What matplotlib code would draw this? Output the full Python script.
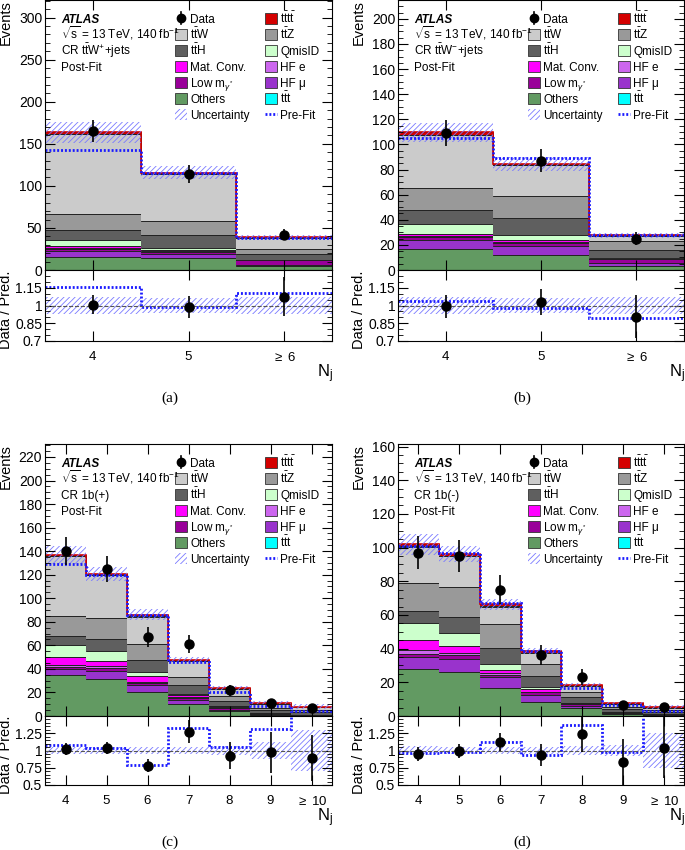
import numpy as np
import matplotlib
matplotlib.use('Agg')
import matplotlib.pyplot as plt
from matplotlib.patches import Rectangle
from matplotlib.lines import Line2D
from matplotlib.ticker import MultipleLocator, FixedLocator

plt.rcParams['font.family'] = ['Liberation Sans', 'DejaVu Sans']
plt.rcParams['mathtext.fontset'] = 'custom'
plt.rcParams['mathtext.rm'] = 'Liberation Sans'
plt.rcParams['mathtext.it'] = 'Liberation Sans:italic'
plt.rcParams['mathtext.bf'] = 'Liberation Sans:bold'
plt.rcParams['hatch.linewidth'] = 0.6

# ---- data ----
nj_3 = ["4", "5", r"$\geq$ 6"]
nj_7 = ["4", "5", "6", "7", "8", "9", r"$\geq$ 10"]

# (a) CR ttW+ +jets
a_data    = [165, 114, 42]
a_prefit  = [143, 115, 38]
a_unc     = [0.075, 0.065, 0.07]
a_others  = [16, 14, 5]
a_hfmu    = [6, 5.5, 1.5]
a_lowm    = [3, 2, 5]
a_hfe     = [1, 1, 0.3]
a_matconv = [3, 1.5, 0.3]
a_qmisid  = [7, 2.5, 0.3]
a_tth     = [12, 15, 6.5]
a_ttz     = [19, 17, 6.5]
a_ttw     = [95, 56, 12.5]
a_ttt     = [0.2, 0.2, 0.2]
a_tttt    = [1.5, 1, 1]

# (b) CR ttW- +jets
b_data    = [109, 87, 25]
b_prefit  = [105, 89, 28]
b_unc     = [0.07, 0.065, 0.07]
b_others  = [17, 12, 3.5]
b_hfmu    = [7, 7.5, 2]
b_lowm    = [2.5, 2, 3]
b_hfe     = [0.8, 0.8, 0.2]
b_matconv = [1.2, 1.5, 0.2]
b_qmisid  = [8, 4, 0.3]
b_tth     = [11, 13.5, 7]
b_ttz     = [18, 18, 6.5]
b_ttw     = [42, 24, 4]
b_ttt     = [0.2, 0.1, 0.1]
b_tttt    = [2, 1.2, 0.8]

# (c) CR 1b(+)
c_data    = [140, 125, 67, 61, 22, 11, 7]
c_prefit  = [129.5, 120, 85.6, 46, 20.8, 8.4, 4.4]
c_unc     = [0.055, 0.05, 0.05, 0.05, 0.07, 0.13, 0.3]
c_others  = [35, 31.5, 20.5, 10.5, 4, 1, 0.5]
c_hfmu    = [4.5, 7, 6, 3.5, 1.5, 0.5, 0.2]
c_lowm    = [2, 2, 1.5, 1.5, 1.5, 0.5, 0.2]
c_hfe     = [2, 2, 1, 0.5, 0.5, 0.2, 0.1]
c_matconv = [6.5, 4, 5, 1.5, 0.7, 0.3, 0.1]
c_qmisid  = [10, 8.5, 3.5, 1.5, 0.5, 0.2, 0.1]
c_tth     = [8, 10, 10, 7, 4, 2, 2.5]
c_ttz     = [17, 18, 14, 7.5, 4, 2, 1.5]
c_ttw     = [50.5, 36.5, 23, 13, 6, 3.8, 2.2]
c_ttt     = [0.3, 0.3, 0.2, 0.2, 0.1, 0.1, 0.1]
c_tttt    = [0.7, 1, 1.5, 1.2, 1, 0.7, 0.4]

# (d) CR 1b(-)
d_data    = [97, 95, 75, 36, 23, 6.5, 5.5]
d_prefit  = [101, 96.5, 67, 38.3, 16.8, 6.6, 3.2]
d_unc     = [0.06, 0.05, 0.05, 0.05, 0.06, 0.085, 0.26]
d_others  = [28, 26, 16.5, 8.5, 4.5, 1.3, 0.5]
d_hfmu    = [7, 8, 6.5, 4, 1.5, 0.3, 0.2]
d_lowm    = [2, 2, 1.5, 1.5, 1, 0.3, 0.1]
d_hfe     = [2, 1.5, 1, 0.5, 0.3, 0.1, 0.1]
d_matconv = [6, 4, 2, 1.5, 0.4, 0.2, 0.1]
d_qmisid  = [10, 7.5, 3.5, 1, 0.3, 0.2, 0.1]
d_tth     = [7.5, 9.5, 9.5, 6.5, 3, 1.5, 1.5]
d_ttz     = [16.5, 18, 14, 7.5, 3.5, 1.6, 1]
d_ttw     = [21.5, 18.3, 10.5, 6.3, 3.2, 1.6, 1.2]
d_ttt     = [0.3, 0.2, 0.2, 0.2, 0.1, 0.1, 0.1]
d_tttt    = [1.2, 1, 1.2, 1, 0.7, 0.6, 0.4]

# stack order bottom -> top
stack_colors = ['#629a62', '#9933cc', '#990099', '#cc66ee', '#ff00ff',
                '#ccffcc', '#5f5f5f', '#999999', '#cbcbcb', '#00ffff', '#d40000']
HATCH = '#7a7aff'
PREFIT = '#1a1aff'
DOTS = (0, (0.7, 0.7))

TT = r'$\mathrm{t}\bar{\mathrm{t}}$'

FW, FH = 685, 850


def px_rect(l, t, w, h):
    return [l / FW, 1 - (t + h) / FH, w / FW, h / FH]


def legend(ax, w, h):
    def row_y(r):
        return 1 - (18.3 + 16 * r) / h

    def put_text(x, r, label, **kw):
        ax.text(x, row_y(r) - 4.5 / h, label, transform=ax.transAxes, va='baseline', fontsize=8.5, **kw)

    def box(col, r, color, label, hatch=None):
        x0 = (130 + 90 * col) / w
        y = row_y(r)
        if hatch:
            ax.add_patch(Rectangle((x0, y - 5.5 / h), 12 / w, 11 / h, transform=ax.transAxes,
                                   facecolor='none', edgecolor=HATCH, hatch=hatch, lw=0))
        else:
            ax.add_patch(Rectangle((x0, y - 5.5 / h), 12 / w, 11 / h, transform=ax.transAxes,
                                   facecolor=color, edgecolor='#333333', lw=0.6))
        put_text(x0 + 15 / w, r, label)

    x0 = 130 / w
    y = row_y(0)
    ax.add_line(Line2D([x0 + 6 / w] * 2, [y - 6 / h, y + 6 / h], transform=ax.transAxes, color='k', lw=1.2))
    ax.add_line(Line2D([x0 + 6 / w], [y], transform=ax.transAxes, marker='o', ms=6, color='k'))
    put_text(x0 + 15 / w, 0, 'Data')
    box(0, 1, stack_colors[8], TT + 'W')
    box(0, 2, stack_colors[6], TT + 'H')
    box(0, 3, stack_colors[4], 'Mat. Conv.')
    box(0, 4, stack_colors[2], r'Low m$_{\gamma^{*}}$')
    box(0, 5, stack_colors[0], 'Others')
    box(0, 6, None, 'Uncertainty', hatch='//////')
    box(1, 0, stack_colors[10], TT + TT)
    box(1, 1, stack_colors[7], TT + 'Z')
    box(1, 2, stack_colors[5], 'QmisID')
    box(1, 3, stack_colors[3], 'HF e')
    box(1, 4, stack_colors[1], 'HF μ')
    box(1, 5, stack_colors[9], TT + 't')
    x1 = 220 / w
    y = row_y(6)
    ax.add_line(Line2D([x1, x1 + 12 / w], [y, y], transform=ax.transAxes, color=PREFIT, lw=2, ls=DOTS))
    put_text(x1 + 15 / w, 6, 'Pre-Fit')

    # ATLAS label block
    put_text(16 / w, 0, 'ATLAS', fontweight='bold', fontstyle='italic')


def draw_panel(fig, left, top, width, main_h, ratio_h, ticklabels, data, prefit, unc, comps,
               ymax, ymaj, ymin, rlo, rhi, rticks, rlabels, region, tag):
    data = np.asarray(data, float)
    prefit = np.asarray(prefit, float)
    unc = np.asarray(unc, float)
    n = len(data)
    x = np.arange(n)
    edges = np.arange(n + 1) - 0.5

    ax = fig.add_axes(px_rect(left, top, width, main_h))
    bottom = np.zeros(n)
    for vals, col in zip(comps, stack_colors):
        vals = np.asarray(vals, float)
        ax.stairs(bottom + vals, edges, baseline=bottom.copy(), fill=True, color=col)
        ax.stairs(bottom + vals, edges, baseline=None, color='#222222', lw=0.7)
        bottom = bottom + vals
    total = bottom
    ax.stairs(total, edges, baseline=None, color=stack_colors[10], lw=1.2)
    ax.stairs(total * (1 + unc), edges, baseline=total * (1 - unc), fill=True,
              facecolor='none', edgecolor=HATCH, hatch='//////', lw=0)
    ax.stairs(prefit, edges, baseline=None, color=PREFIT, lw=2, ls=DOTS)
    ax.errorbar(x, data, yerr=np.sqrt(data), fmt='o', color='k', ms=6.5, elinewidth=1.2,
                capsize=0, zorder=5)
    ax.set_xlim(-0.5, n - 0.5)
    ax.set_ylim(0, ymax)
    ax.set_xticks(x)
    ax.set_xticklabels([])
    ax.yaxis.set_major_locator(MultipleLocator(ymaj))
    ax.yaxis.set_minor_locator(MultipleLocator(ymin))
    ax.tick_params(which='both', direction='in', top=True, right=True, labelsize=10, pad=2)
    ax.tick_params(which='major', length=7)
    ax.tick_params(which='minor', length=3.5)
    ax.tick_params(axis='x', which='minor', bottom=False, top=False)

    legend(ax, width, main_h)
    for i, t in enumerate([r'$\sqrt{\mathrm{s}}$ = 13 TeV, 140 fb$^{-1}$', region, 'Post-Fit']):
        ax.text(16 / width, 1 - (18.3 + 16 * (i + 1) + 4.5) / main_h, t, transform=ax.transAxes,
                va='baseline', fontsize=8.5)

    rx = fig.add_axes(px_rect(left, top + main_h, width, ratio_h))
    rx.stairs(1 + unc, edges, baseline=1 - unc, fill=True, facecolor='none',
              edgecolor=HATCH, hatch='//////', lw=0)
    rx.axhline(1, color='#555555', ls='--', lw=0.8)
    rx.stairs(data / prefit, edges, baseline=None, color=PREFIT, lw=2, ls=DOTS)
    rx.errorbar(x, data / total, yerr=np.sqrt(data) / total, fmt='o', color='k', ms=6.5,
                elinewidth=1.2, capsize=0, zorder=5)
    rx.set_xlim(-0.5, n - 0.5)
    rx.set_ylim(rlo, rhi)
    rx.set_xticks(x)
    rx.set_xticklabels(ticklabels)
    rx.yaxis.set_major_locator(FixedLocator(rticks))
    rx.set_yticklabels(rlabels)
    rx.yaxis.set_minor_locator(MultipleLocator(0.05))
    rx.tick_params(which='both', direction='in', top=True, right=True, labelsize=10, pad=2)
    rx.tick_params(axis='x', pad=7, labelsize=9.5)
    rx.tick_params(which='major', length=7)
    rx.tick_params(which='minor', length=3.5)
    rx.tick_params(axis='x', which='minor', bottom=False, top=False)

    fig.text((left - 39) / FW, 1 - top / FH, 'Events', rotation=90, ha='center', va='top', fontsize=10.5)
    fig.text((left - 39) / FW, 1 - (top + main_h + ratio_h / 2 + 4) / FH, 'Data / Pred.',
             rotation=90, ha='center', va='center', fontsize=10.5)
    fig.text((left + width + 1) / FW, 1 - (top + main_h + ratio_h + 33) / FH, r'N$_\mathrm{j}$',
             ha='right', va='center', fontsize=12)
    fig.text((left + width / 2 - 19) / FW, 1 - (top + main_h + ratio_h + 57) / FH, tag,
             ha='center', va='center', fontsize=11, family='Liberation Serif')


fig = plt.figure(figsize=(FW / 100, FH / 100), dpi=100)

draw_panel(fig, 45, 0, 287, 270, 71, nj_3, a_data, a_prefit, a_unc,
           [a_others, a_hfmu, a_lowm, a_hfe, a_matconv, a_qmisid, a_tth, a_ttz, a_ttw, a_ttt, a_tttt],
           321, 50, 10, 0.7, 1.3, [0.7, 0.85, 1.0, 1.15], ['0.7', '0.85', '1', '1.15'],
           'CR ' + TT + r'W$^{+}$+jets', '(a)')
draw_panel(fig, 398, 0, 286, 270, 71, nj_3, b_data, b_prefit, b_unc,
           [b_others, b_hfmu, b_lowm, b_hfe, b_matconv, b_qmisid, b_tth, b_ttz, b_ttw, b_ttt, b_tttt],
           215, 20, 5, 0.7, 1.3, [0.7, 0.85, 1.0, 1.15], ['0.7', '0.85', '1', '1.15'],
           'CR ' + TT + r'W$^{-}$+jets', '(b)')
draw_panel(fig, 45, 444, 287, 272, 69, nj_7, c_data, c_prefit, c_unc,
           [c_others, c_hfmu, c_lowm, c_hfe, c_matconv, c_qmisid, c_tth, c_ttz, c_ttw, c_ttt, c_tttt],
           231, 20, 5, 0.5, 1.5, [0.5, 0.75, 1.0, 1.25], ['0.5', '0.75', '1', '1.25'],
           'CR 1b(+)', '(c)')
draw_panel(fig, 398, 444, 286, 272, 69, nj_7, d_data, d_prefit, d_unc,
           [d_others, d_hfmu, d_lowm, d_hfe, d_matconv, d_qmisid, d_tth, d_ttz, d_ttw, d_ttt, d_tttt],
           161.5, 20, 5, 0.5, 1.5, [0.5, 0.75, 1.0, 1.25], ['0.5', '0.75', '1', '1.25'],
           'CR 1b(-)', '(d)')

fig.savefig('out.png', dpi=100)
